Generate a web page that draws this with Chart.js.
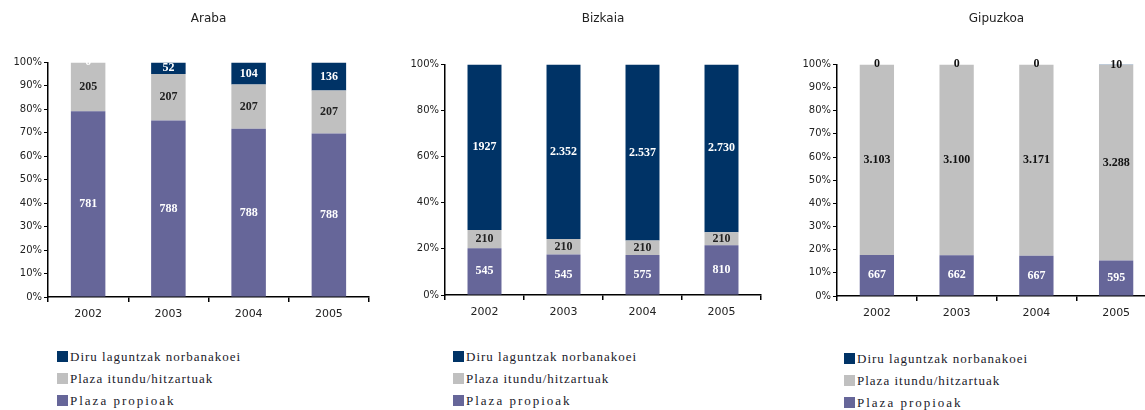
<!DOCTYPE html>
<html>
<head>
<meta charset="utf-8">
<script src="https://cdn.jsdelivr.net/npm/chart.js@4.4.1/dist/chart.umd.min.js"></script>
<style>
  body { margin: 0; width: 1145px; height: 410px; overflow: hidden; background: #fff; position: relative; }
  .box { position: absolute; top: 0; height: 330px; }
  .legend { position: absolute; font-family: 'Liberation Serif', serif; font-size: 13px; color: #1a1a2a; }
  .legend div { position: absolute; white-space: nowrap; height: 14px; line-height: 14px; }
  .legend span.sq { display: inline-block; width: 11px; height: 11px; vertical-align: -1px; margin-right: 2px; }
</style>
</head>
<body>
<div class="box" id="b1" style="left:0px;width:372px"><canvas id="araba"></canvas></div>
<div class="box" id="b2" style="left:380px;width:385px"><canvas id="bizkaia"></canvas></div>
<div class="box" id="b3" style="left:770px;width:390px"><canvas id="gipuzkoa"></canvas></div>
<div class="legend" id="l1" style="left:57px;top:350px"></div>
<div class="legend" id="l2" style="left:453px;top:350px"></div>
<div class="legend" id="l3" style="left:844px;top:352px"></div>
<script>
/* Gizarte zerbitzuak: plazak 2002-2005 */

const years = ['2002', '2003', '2004', '2005'];
const seriesNames = ['Plaza propioak', 'Plaza itundu/hitzartuak', 'Diru laguntzak norbanakoei'];
const seriesColors = ['#666699', '#c0c0c0', '#003366'];

const arabaPropioak = [781, 788, 788, 788];
const arabaItundu = [205, 207, 207, 207];
const arabaDiru = [0, 52, 104, 136];

const bizkaiaPropioak = [545, 545, 575, 810];
const bizkaiaItundu = [210, 210, 210, 210];
const bizkaiaDiru = [1927, 2352, 2537, 2730];

const gipuzkoaPropioak = [667, 662, 667, 595];
const gipuzkoaItundu = [3103, 3100, 3171, 3288];
const gipuzkoaDiru = [0, 0, 0, 10];

function dotted(v) {
  return v >= 1000 ? String(v).replace(/(\d)(\d{3})$/, '$1.$2') : String(v);
}

function makeChart(id, title, series, opt) {
  const totals = years.map((y, i) => series.reduce((s, arr) => s + arr[i], 0));

  const valueLabels = {
    id: 'valueLabels',
    afterDatasetsDraw(chart) {
      const { ctx } = chart;
      ctx.save();
      ctx.font = 'bold 12px "Liberation Serif"';
      ctx.textAlign = 'center';
      ctx.textBaseline = 'middle';
      chart.data.datasets.forEach((dataset, di) => {
        chart.getDatasetMeta(di).data.forEach((bar, index) => {
          ctx.fillStyle = opt.labelColors[di];
          ctx.fillText(opt.labelText(series[di][index]), bar.x, (bar.y + bar.base) / 2);
        });
      });
      ctx.restore();
    }
  };

  new Chart(document.getElementById(id), {
    type: 'bar',
    data: {
      labels: years,
      datasets: series.map((arr, i) => ({
        label: seriesNames[i],
        data: arr.map((v, j) => v / totals[j] * 100),
        backgroundColor: seriesColors[i],
        barPercentage: 0.43,
        categoryPercentage: 1
      }))
    },
    options: {
      responsive: true,
      maintainAspectRatio: false,
      animation: false,
      layout: { padding: { left: 0, right: opt.padRight, top: 0, bottom: 0 } },
      plugins: {
        legend: { display: false },
        tooltip: { enabled: false },
        title: {
          display: true,
          text: title,
          fullSize: false,
          color: '#222',
          font: { family: 'DejaVu Sans', size: 12, weight: 'normal' },
          padding: { top: 12, bottom: opt.titleBottom }
        }
      },
      scales: {
        x: {
          stacked: true,
          border: { color: '#000', width: 1.5 },
          grid: { drawOnChartArea: false, drawTicks: true, tickLength: 5, color: '#000', lineWidth: 1.5 },
          ticks: { color: '#222', padding: 6, font: { family: 'DejaVu Sans', size: 11 } },
          afterFit(scale) { scale.height = opt.xHeight; }
        },
        y: {
          stacked: true,
          min: 0,
          max: 100,
          border: { color: '#000', width: 1.5 },
          grid: { drawOnChartArea: false, drawTicks: true, tickLength: 4, color: '#000', lineWidth: 1 },
          ticks: {
            stepSize: opt.step,
            color: '#222',
            padding: 2,
            font: { family: 'DejaVu Sans', size: 10 },
            callback: v => v + '%'
          },
          afterFit(scale) { scale.width = opt.yWidth; }
        }
      }
    },
    plugins: [valueLabels]
  });
}

makeChart('araba', 'Araba', [arabaPropioak, arabaItundu, arabaDiru], {
  step: 10, yWidth: 48, xHeight: 33, titleBottom: 36, padRight: 3,
  labelColors: ['#fff', '#222', '#fff'],
  labelText: v => String(v)
});

makeChart('bizkaia', 'Bizkaia', [bizkaiaPropioak, bizkaiaItundu, bizkaiaDiru], {
  step: 20, yWidth: 65, xHeight: 35, titleBottom: 38, padRight: 4,
  labelColors: ['#fff', '#222', '#fff'],
  labelText: v => v === 1927 ? '1927' : dotted(v)
});

makeChart('gipuzkoa', 'Gipuzkoa', [gipuzkoaPropioak, gipuzkoaItundu, gipuzkoaDiru], {
  step: 10, yWidth: 67, xHeight: 34, titleBottom: 38, padRight: 4,
  labelColors: ['#fff', '#111', '#111'],
  labelText: dotted
});

/* Legends */
function makeLegend(id, gap) {
  const el = document.getElementById(id);
  [2, 1, 0].forEach((si, row) => {
    const item = document.createElement('div');
    item.style.top = (row * gap) + 'px';
    item.style.letterSpacing = si === 0 ? '2px' : '1px';
    item.innerHTML = '<span class="sq" style="background:' + seriesColors[si] + '"></span>' + seriesNames[si];
    el.appendChild(item);
  });
}
makeLegend('l1', 22);
makeLegend('l2', 22);
makeLegend('l3', 22);
</script>
</body>
</html>
